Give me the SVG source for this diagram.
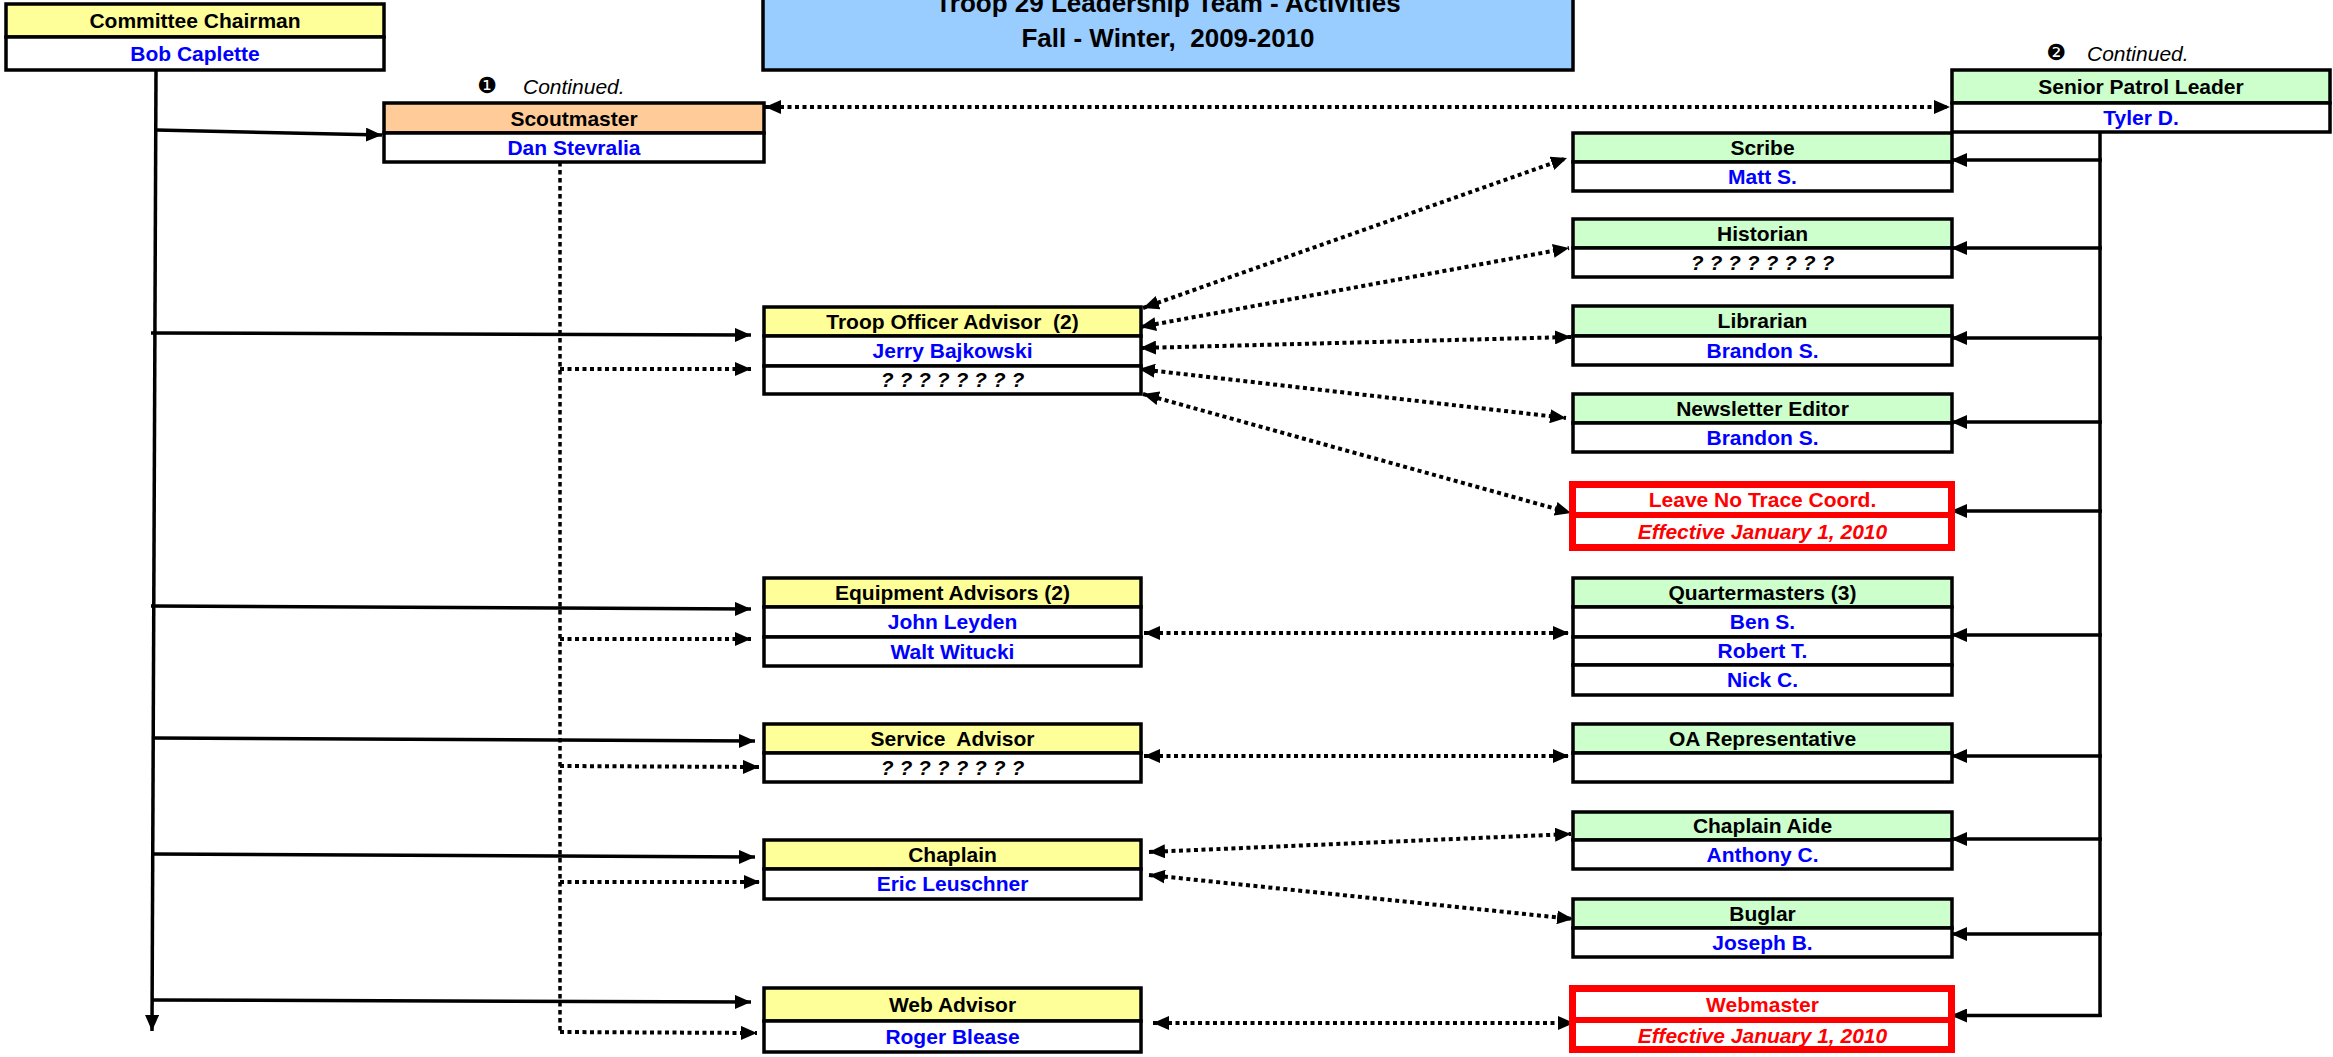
<svg xmlns="http://www.w3.org/2000/svg" width="2333" height="1057" viewBox="0 0 2333 1057">
<defs>
<style>
.bx{stroke:#000;stroke-width:3.5}
.y{fill:#FFFF99}.g{fill:#CCFFCC}.o{fill:#FFCC99}.w{fill:#FFFFFF}
.rb{fill:#FFFFFF;stroke:#FF0000;stroke-width:7}
.rl{stroke:#FF0000;stroke-width:6}
text{font-family:"Liberation Sans",Arial,sans-serif;font-size:21px;font-weight:bold;text-anchor:middle;white-space:pre}
.t{fill:#000}
.n{fill:#0000FF}
.q{fill:#000;font-style:italic}
.r{fill:#FF0000}
.ri{fill:#FF0000;font-style:italic}
.ttl{font-size:26px;fill:#000}
.cont{font-weight:normal;font-style:italic;text-anchor:start;fill:#000}
.dg{font-family:"DejaVu Sans",sans-serif;font-size:22px;font-weight:normal;fill:#000}
.s{fill:none;stroke:#000;stroke-width:3.5}
.d{fill:none;stroke:#000;stroke-width:4;stroke-dasharray:4 3.5}
.dv{fill:none;stroke:#000;stroke-width:3.5;stroke-dasharray:4.5 3.5}
.ae{marker-end:url(#ah)}
.ab{marker-start:url(#ah);marker-end:url(#ah)}
</style>
<marker id="ah" viewBox="0 0 16 14" refX="16" refY="7" markerWidth="16" markerHeight="14" markerUnits="userSpaceOnUse" orient="auto-start-reverse"><path d="M0,0 L16,7 L0,14 z" fill="#000"/></marker>
</defs>
<rect x="0" y="0" width="2333" height="1057" fill="#FFFFFF"/>

<g id="title">
<rect x="763" y="-10" width="810" height="80" fill="#99CCFF" stroke="#000" stroke-width="3.5"/>
<text class="ttl" x="1168" y="12">Troop 29 Leadership Team - Activities</text>
<text class="ttl" x="1168" y="47">Fall - Winter,  2009-2010</text>
</g>

<g id="connectors">
<path class="s ae" d="M156,70 L152,1031"/>
<path class="s ae" d="M156,130 L382,135"/>
<path class="s ae" d="M151,333 L751,335"/>
<path class="s ae" d="M151,606 L751,609"/>
<path class="s ae" d="M153,738 L755,741"/>
<path class="s ae" d="M153,854 L755,857"/>
<path class="s ae" d="M151,1000 L751,1002"/>
<path class="dv" d="M560,162 L560,1032"/>
<path class="d ae" d="M560,369 L751,369"/>
<path class="d ae" d="M560,639 L751,639"/>
<path class="d ae" d="M560,766 L759,767"/>
<path class="d ae" d="M560,882 L760,882"/>
<path class="d ae" d="M560,1032 L757,1033"/>
<path class="s" d="M2100,132 L2100,1017"/>
<path class="s ae" d="M2102,160 L1951,160"/>
<path class="s ae" d="M2102,248 L1951,248"/>
<path class="s ae" d="M2102,338 L1951,338"/>
<path class="s ae" d="M2102,422 L1951,422"/>
<path class="s ae" d="M2102,511 L1951,511"/>
<path class="s ae" d="M2102,635 L1951,635"/>
<path class="s ae" d="M2102,756 L1951,756"/>
<path class="s ae" d="M2102,839 L1951,839"/>
<path class="s ae" d="M2102,934 L1951,934"/>
<path class="s ae" d="M2101.75,1015.5 L1951,1015.5"/>
<path class="d ab" d="M765,107 L1950,107"/>
<path class="d ab" d="M1143,308 L1567,158"/>
<path class="d ab" d="M1140,327 L1569,248"/>
<path class="d ab" d="M1140,348 L1571,337"/>
<path class="d ab" d="M1139,369 L1566,418"/>
<path class="d ab" d="M1143,394 L1571,513"/>
<path class="d ab" d="M1144,633 L1569,633"/>
<path class="d ab" d="M1144,756 L1569,756"/>
<path class="d ab" d="M1149,852 L1571,834"/>
<path class="d ab" d="M1149,875 L1573,919"/>
<path class="d ab" d="M1153,1023 L1574,1023"/>
</g>

<g id="committee-chairman">
<rect class="bx y" x="6" y="4" width="378" height="33"/>
<rect class="bx w" x="6" y="37" width="378" height="33"/>
<text class="t" x="195" y="28">Committee Chairman</text>
<text class="n" x="195" y="61">Bob Caplette</text>
</g>

<g id="continued-1">
<text class="dg" x="487" y="93">❶</text>
<text class="cont" x="523" y="94">Continued.</text>
</g>

<g id="scoutmaster">
<rect class="bx o" x="384" y="103" width="380" height="30"/>
<rect class="bx w" x="384" y="133" width="380" height="29"/>
<text class="t" x="574" y="126">Scoutmaster</text>
<text class="n" x="574" y="155">Dan Stevralia</text>
</g>

<g id="continued-2">
<text class="dg" x="2056" y="60">❷</text>
<text class="cont" x="2087" y="61">Continued.</text>
</g>

<g id="senior-patrol-leader">
<rect class="bx g" x="1952" y="70" width="378" height="33"/>
<rect class="bx w" x="1952" y="103" width="378" height="29"/>
<text class="t" x="2141" y="94">Senior Patrol Leader</text>
<text class="n" x="2141" y="125">Tyler D.</text>
</g>

<g id="scribe">
<rect class="bx g" x="1573" y="133" width="379" height="29"/>
<rect class="bx w" x="1573" y="162" width="379" height="29"/>
<text class="t" x="1762.5" y="155">Scribe</text>
<text class="n" x="1762.5" y="184">Matt S.</text>
</g>

<g id="historian">
<rect class="bx g" x="1573" y="219" width="379" height="29"/>
<rect class="bx w" x="1573" y="248" width="379" height="29"/>
<text class="t" x="1762.5" y="241">Historian</text>
<text class="q" x="1762.5" y="270">? ? ? ? ? ? ? ?</text>
</g>

<g id="librarian">
<rect class="bx g" x="1573" y="306" width="379" height="30"/>
<rect class="bx w" x="1573" y="336" width="379" height="29"/>
<text class="t" x="1762.5" y="328">Librarian</text>
<text class="n" x="1762.5" y="358">Brandon S.</text>
</g>

<g id="newsletter-editor">
<rect class="bx g" x="1573" y="394" width="379" height="29"/>
<rect class="bx w" x="1573" y="423" width="379" height="29"/>
<text class="t" x="1762.5" y="416">Newsletter Editor</text>
<text class="n" x="1762.5" y="445">Brandon S.</text>
</g>

<g id="leave-no-trace">
<rect class="rb" x="1572.5" y="484.5" width="379" height="63"/>
<line class="rl" x1="1572.5" y1="515" x2="1951.5" y2="515"/>
<text class="r" x="1762.5" y="507">Leave No Trace Coord.</text>
<text class="ri" x="1762.5" y="539">Effective January 1, 2010</text>
</g>

<g id="troop-officer-advisor">
<rect class="bx y" x="764" y="307" width="377" height="29"/>
<rect class="bx w" x="764" y="336" width="377" height="30"/>
<rect class="bx w" x="764" y="366" width="377" height="28"/>
<text class="t" x="952.5" y="329">Troop Officer Advisor  (2)</text>
<text class="n" x="952.5" y="358">Jerry Bajkowski</text>
<text class="q" x="952.5" y="387">? ? ? ? ? ? ? ?</text>
</g>

<g id="equipment-advisors">
<rect class="bx y" x="764" y="578" width="377" height="29"/>
<rect class="bx w" x="764" y="607" width="377" height="30"/>
<rect class="bx w" x="764" y="637" width="377" height="29"/>
<text class="t" x="952.5" y="600">Equipment Advisors (2)</text>
<text class="n" x="952.5" y="629">John Leyden</text>
<text class="n" x="952.5" y="659">Walt Witucki</text>
</g>

<g id="quartermasters">
<rect class="bx g" x="1573" y="578" width="379" height="29"/>
<rect class="bx w" x="1573" y="607" width="379" height="30"/>
<rect class="bx w" x="1573" y="637" width="379" height="28"/>
<rect class="bx w" x="1573" y="665" width="379" height="30"/>
<text class="t" x="1762.5" y="600">Quartermasters (3)</text>
<text class="n" x="1762.5" y="629">Ben S.</text>
<text class="n" x="1762.5" y="658">Robert T.</text>
<text class="n" x="1762.5" y="687">Nick C.</text>
</g>

<g id="service-advisor">
<rect class="bx y" x="764" y="724" width="377" height="29"/>
<rect class="bx w" x="764" y="753" width="377" height="29"/>
<text class="t" x="952.5" y="746">Service  Advisor</text>
<text class="q" x="952.5" y="775">? ? ? ? ? ? ? ?</text>
</g>

<g id="oa-representative">
<rect class="bx g" x="1573" y="724" width="379" height="29"/>
<rect class="bx w" x="1573" y="753" width="379" height="29"/>
<text class="t" x="1762.5" y="746">OA Representative</text>
</g>

<g id="chaplain">
<rect class="bx y" x="764" y="840" width="377" height="29"/>
<rect class="bx w" x="764" y="869" width="377" height="30"/>
<text class="t" x="952.5" y="862">Chaplain</text>
<text class="n" x="952.5" y="891">Eric Leuschner</text>
</g>

<g id="chaplain-aide">
<rect class="bx g" x="1573" y="812" width="379" height="28"/>
<rect class="bx w" x="1573" y="840" width="379" height="29"/>
<text class="t" x="1762.5" y="833">Chaplain Aide</text>
<text class="n" x="1762.5" y="862">Anthony C.</text>
</g>

<g id="buglar">
<rect class="bx g" x="1573" y="899" width="379" height="29"/>
<rect class="bx w" x="1573" y="928" width="379" height="29"/>
<text class="t" x="1762.5" y="921">Buglar</text>
<text class="n" x="1762.5" y="950">Joseph B.</text>
</g>

<g id="web-advisor">
<rect class="bx y" x="764" y="988" width="377" height="33"/>
<rect class="bx w" x="764" y="1021" width="377" height="31"/>
<text class="t" x="952.5" y="1012">Web Advisor</text>
<text class="n" x="952.5" y="1044">Roger Blease</text>
</g>

<g id="webmaster">
<rect class="rb" x="1572.5" y="988.5" width="379" height="61"/>
<line class="rl" x1="1572.5" y1="1020" x2="1951.5" y2="1020"/>
<text class="r" x="1762.5" y="1012">Webmaster</text>
<text class="ri" x="1762.5" y="1043">Effective January 1, 2010</text>
</g>
</svg>
